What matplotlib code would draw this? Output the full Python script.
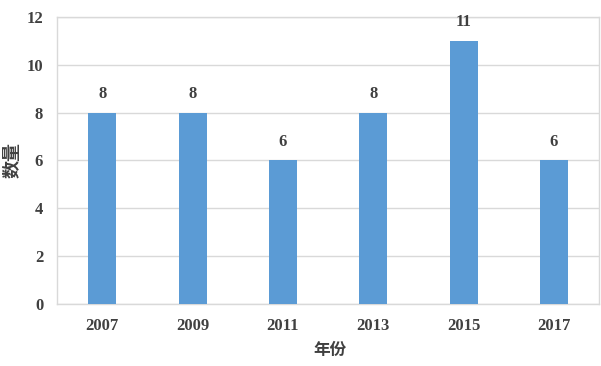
import matplotlib.pyplot as plt

years = ['2007', '2009', '2011', '2013', '2015', '2017']
counts = [8, 8, 6, 8, 11, 6]
yticks = [0, 2, 4, 6, 8, 10, 12]

num_font = ['Liberation Serif', 'Noto Sans CJK SC']
cjk_font = ['Noto Sans CJK SC', 'DejaVu Sans']
text_color = '#404040'

fig = plt.figure(figsize=(6.01, 3.66), dpi=100)
ax = fig.add_axes([0.095, 0.169, 0.902, 0.785])

x = range(len(years))
bars = ax.bar(x, counts, width=0.31, color='#5b9bd5', zorder=3)

for xi, v in zip(x, counts):
    ax.text(xi, v + 0.45, str(v), ha='center', va='bottom', fontsize=12,
            fontweight='bold', family=num_font, color=text_color)

ax.set_xlim(-0.5, len(years) - 0.5)
ax.set_ylim(0, 12)
ax.set_yticks(yticks)
ax.set_xticks(list(x))
ax.set_xticklabels(years)
for lab in ax.get_xticklabels() + ax.get_yticklabels():
    lab.set_family(num_font)
    lab.set_fontweight('bold')
    lab.set_fontsize(12)
    lab.set_color(text_color)

ax.tick_params(axis='both', length=0)
ax.tick_params(axis='x', pad=10)
ax.tick_params(axis='y', pad=10)
ax.grid(axis='y', color='#d9d9d9', linewidth=1, zorder=0)
for side in ['left', 'right', 'top', 'bottom']:
    ax.spines[side].set_color('#d9d9d9')
    ax.spines[side].set_linewidth(1)

# axis titles placed by hand so they stay inside the small figure
fig.text(330 / 601, 1 - 350 / 366, '年份', family=cjk_font, fontweight='bold',
         fontsize=12, color=text_color, ha='center', va='center')
fig.text(12 / 601, 1 - 160 / 366, '数量', family=cjk_font, fontweight='bold',
         fontsize=13, color=text_color, ha='center', va='center', rotation=90)

fig.savefig('out.png', dpi=100)
